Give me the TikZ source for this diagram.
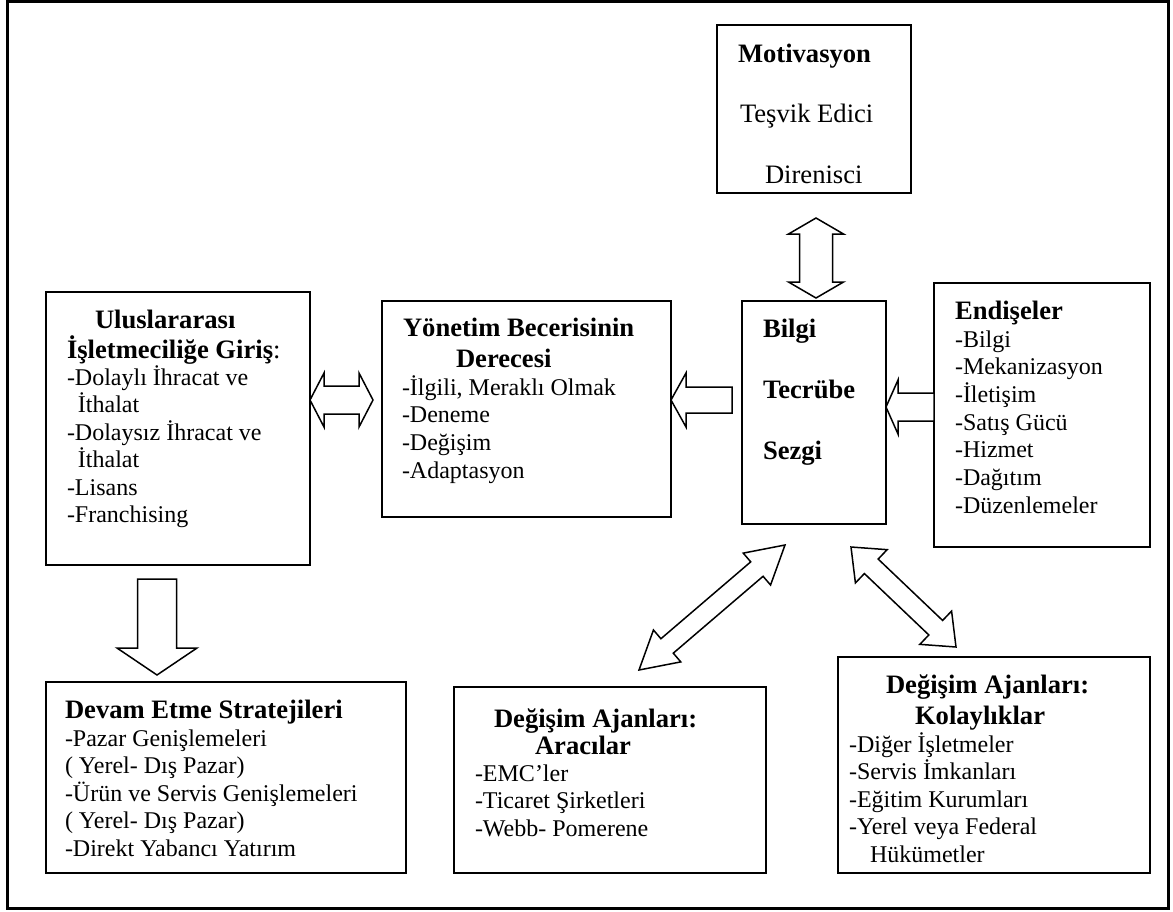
\documentclass[tikz,border=0pt]{standalone}
\usepackage{fontspec}
\setmainfont{Liberation Serif}
\usetikzlibrary{calc,fit}

\tikzset{
  box/.style={draw, line width=1pt, inner sep=0pt, outer sep=0pt},
  frame/.style={draw, line width=1.5pt},
  item/.style={anchor=base west, inner sep=0pt, outer sep=0pt, font=\fontsize{12pt}{14pt}\selectfont},
  head/.style={anchor=base west, inner sep=0pt, outer sep=0pt, font=\bfseries\fontsize{13.3pt}{15pt}\selectfont},
  plainbig/.style={anchor=base west, inner sep=0pt, outer sep=0pt, font=\mdseries\fontsize{13.3pt}{15pt}\selectfont},
  blockarrow/.style={draw, fill=white, line width=0.75pt, line join=miter},
}

% hollow block arrow: tail, tip, shaft half width, head half width, head length
\newcommand\singlearrow[5]{%
  \draw[blockarrow] ($(#1)!#3!90:(#2)$) -- ($(#2)!#5!(#1)!#3!-90:(#1)$)
    -- ($(#2)!#5!(#1)!#4!-90:(#1)$) -- (#2) -- ($(#2)!#5!(#1)!#4!90:(#1)$)
    -- ($(#2)!#5!(#1)!#3!90:(#1)$) -- ($(#1)!#3!-90:(#2)$) -- cycle;}

% hollow two-headed block arrow: tip, tip, shaft half width, head half width, head length
\newcommand\doublearrow[5]{%
  \draw[blockarrow] (#1) -- ($(#1)!#5!(#2)!#4!90:(#2)$) -- ($(#1)!#5!(#2)!#3!90:(#2)$)
    -- ($(#2)!#5!(#1)!#3!-90:(#1)$) -- ($(#2)!#5!(#1)!#4!-90:(#1)$) -- (#2)
    -- ($(#2)!#5!(#1)!#4!90:(#1)$) -- ($(#2)!#5!(#1)!#3!90:(#1)$)
    -- ($(#1)!#5!(#2)!#3!-90:(#2)$) -- ($(#1)!#5!(#2)!#4!-90:(#2)$) -- cycle;}

% list lines: name prefix, x, first baseline, line step, entries
\newcommand\itemlines[5]{%
  \foreach \entry [count=\i] in {#5} {\node[item] (#1-\i) at (#2,{#3+#4*(\i-1)}) {\entry};}}

\begin{document}
\begin{tikzpicture}[x=0.5pt, y=-0.5pt]
\useasboundingbox (0,0) rectangle (1173,911);
\draw[frame] (7,1) rectangle (1168,908);

% boxes
\node[box, fit={(717,25) (911,193)}] (mot) {};
\node[box, fit={(46,292) (310,565)}] (ul) {};
\node[box, fit={(382,301) (671,517)}] (yon) {};
\node[box, fit={(742,301) (886,524)}] (bil) {};
\node[box, fit={(934,283) (1150,547)}] (end) {};
\node[box, fit={(46,682) (406,873)}] (dev) {};
\node[box, fit={(454,687) (766,873)}] (ara) {};
\node[box, fit={(838,657) (1150,873)}] (kol) {};

% Motivasyon
\node[head] (mot-t) at (738,62) {Motivasyon};
\node[plainbig] (mot-a) at (740,122) {\fontsize{13.3pt}{15pt}\selectfont Teşvik Edici};
\node[plainbig] (mot-b) at (765,183) {\fontsize{13.3pt}{15pt}\selectfont Direnisci};

% Uluslararası İşletmeciliğe Giriş
\node[head] (ul-t1) at (95,328) {Uluslararası};
\node[head] (ul-t2) at (67,358) {İşletmeciliğe Giriş\textmd{:}};
\itemlines{ul}{67}{385}{27.5}{-Dolaylı İhracat ve, \hspace*{5.5pt}İthalat, -Dolaysız İhracat ve, \hspace*{5.5pt}İthalat, -Lisans, -Franchising}

% Yönetim Becerisinin Derecesi
\node[head] (yon-t1) at (403,336) {Yönetim Becerisinin};
\node[head] (yon-t2) at (456,367) {Derecesi};
\itemlines{yon}{402}{395}{27.8}{{-İlgili, Meraklı Olmak}, -Deneme, -Değişim, -Adaptasyon}

% Bilgi / Tecrübe / Sezgi
\node[head] (bil-a) at (763,337) {Bilgi};
\node[head] (bil-b) at (763,398) {Tecrübe};
\node[head] (bil-c) at (763,459) {Sezgi};

% Endişeler
\node[head] (end-t) at (955,319) {Endişeler};
\itemlines{end}{955}{347}{27.7}{-Bilgi, -Mekanizasyon, -İletişim, -Satış Gücü, -Hizmet, -Dağıtım, -Düzenlemeler}

% Devam Etme Stratejileri
\node[head] (dev-t) at (65,718) {Devam Etme Stratejileri};
\itemlines{dev}{65}{746}{27.6}{-Pazar Genişlemeleri, ( Yerel- Dış Pazar), -Ürün ve Servis Genişlemeleri, ( Yerel- Dış Pazar), -Direkt Yabancı Yatırım}

% Değişim Ajanları: Aracılar
\node[head] (ara-t1) at (494,727) {Değişim Ajanları:};
\node[head] (ara-t2) at (535,754) {Aracılar};
\itemlines{ara}{475}{781}{27.6}{-EMC’ler, -Ticaret Şirketleri, -Webb- Pomerene}

% Değişim Ajanları: Kolaylıklar
\node[head] (kol-t1) at (886,693) {Değişim Ajanları:};
\node[head] (kol-t2) at (915,724) {Kolaylıklar};
\itemlines{kol}{849}{752}{27.5}{-Diğer İşletmeler, -Servis İmkanları, -Eğitim Kurumları, -Yerel veya Federal, \hspace*{10.5pt}Hükümetler}

% arrow end points
\coordinate (mb1) at (816,218);
\coordinate (mb2) at (816,298);
\coordinate (uy1) at (ul.east |- 0,400);
\coordinate (uy2) at (373,400);
\coordinate (by1) at (732,400);
\coordinate (by2) at (yon.east |- 0,400);
\coordinate (eb1) at (end.west |- 0,407);
\coordinate (eb2) at (bil.east |- 0,407);
\coordinate (ud1) at (157,579);
\coordinate (ud2) at (157,675);
\coordinate (ab1) at (639,670);
\coordinate (ab2) at (785,545);
\coordinate (kb1) at (851,547);
\coordinate (kb2) at (956,647);

% block arrows
\doublearrow{mb1}{mb2}{8.25pt}{13.75pt}{8pt}
\doublearrow{uy1}{uy2}{7pt}{13.5pt}{7pt}
\singlearrow{by1}{by2}{6.5pt}{13.5pt}{7.5pt}
\singlearrow{eb1}{eb2}{7pt}{13.5pt}{6pt}
\singlearrow{ud1}{ud2}{9.75pt}{20pt}{13.5pt}
\doublearrow{ab1}{ab2}{4.75pt}{10.5pt}{18.5pt}
\doublearrow{kb1}{kb2}{5pt}{11.5pt}{14pt}
\end{tikzpicture}
\end{document}
